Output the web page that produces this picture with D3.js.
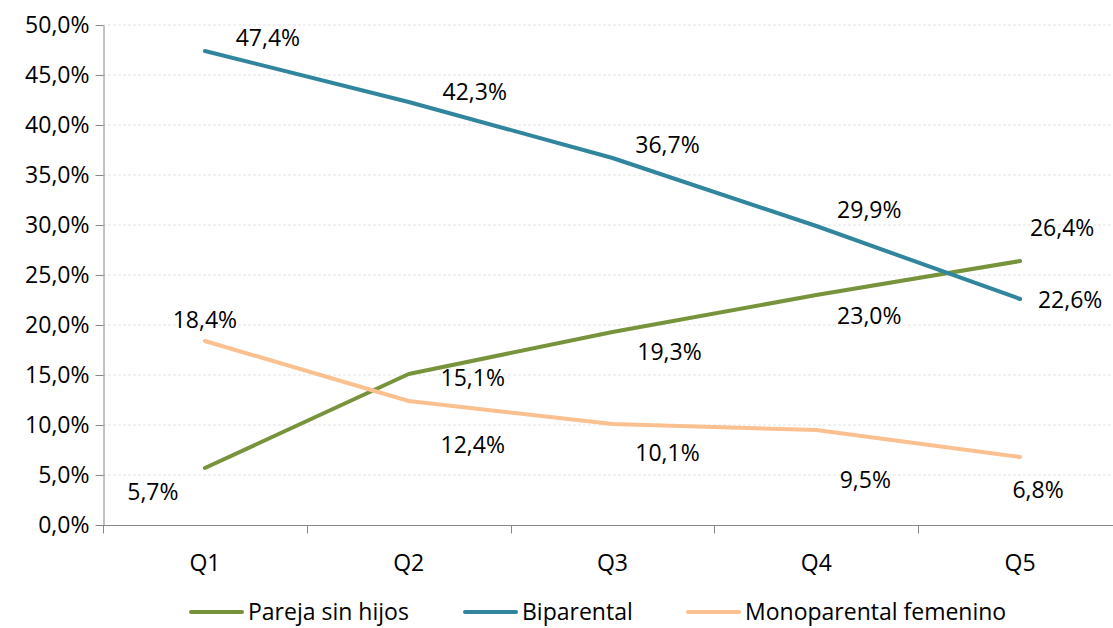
<!DOCTYPE html>
<html>
<head>
<meta charset="utf-8">
<script src="https://cdn.jsdelivr.net/npm/d3@7"></script>
<style>
  body { margin: 0; background: #fff; }
  text { font-family: "Open Sans", sans-serif; fill: #000; }
</style>
</head>
<body>
<div id="chart"></div>
<script>
const categories = ['Q1', 'Q2', 'Q3', 'Q4', 'Q5'];
const parejaSinHijos = [5.7, 15.1, 19.3, 23.0, 26.4];
const biparental = [47.4, 42.3, 36.7, 29.9, 22.6];
const monoparental = [18.4, 12.4, 10.1, 9.5, 6.8];
const yTicks = [0, 5, 10, 15, 20, 25, 30, 35, 40, 45, 50];

const width = 1113;
const height = 628;
const fontSize = '23px';

const series = [
    { name: 'Pareja sin hijos', values: parejaSinHijos, color: '#77933c',
      offsets: [[-52, 24], [64, 4], [57, 20], [53, 21], [42, -33]] },
    { name: 'Biparental', values: biparental, color: '#31859c',
      offsets: [[63, -13], [66, -10], [55, -13], [53, -16], [50, 1]] },
    { name: 'Monoparental femenino', values: monoparental, color: '#fac090',
      offsets: [[0, -21], [64, 44], [55, 29], [49, 50], [18, 33]] }
];

const fmt = v => v.toFixed(1).replace('.', ',') + '%';

const svg = d3.select('#chart')
    .append('svg')
    .attr('width', width)
    .attr('height', height);

const x = d3.scaleBand()
    .domain(categories)
    .range([103, 1122]);

const y = d3.scaleLinear()
    .domain([0, 50])
    .range([525, 25]);

// gridlines
svg.append('g')
    .selectAll('line')
    .data(yTicks.slice(1))
    .enter()
    .append('line')
    .attr('x1', 103)
    .attr('x2', width)
    .attr('y1', d => y(d))
    .attr('y2', d => y(d))
    .attr('stroke', '#e3e3e3')
    .attr('stroke-dasharray', '3,2')
    .attr('stroke-width', 1);

// y axis
const yAxis = svg.append('g')
    .attr('transform', 'translate(103.5,0)')
    .call(d3.axisLeft(y).tickValues(yTicks).tickFormat(fmt).tickSize(8).tickSizeOuter(0));
yAxis.select('.domain').attr('stroke', '#868686');
yAxis.selectAll('.tick line').attr('stroke', '#868686');
yAxis.selectAll('.tick text')
    .attr('x', -14)
    .style('font-size', fontSize)
    .attr('fill', '#000');

// x axis
const xAxis = svg.append('g')
    .attr('transform', 'translate(0,525.5)');
xAxis.append('line')
    .attr('x1', 103)
    .attr('x2', width)
    .attr('stroke', '#868686');
xAxis.selectAll('.xtick')
    .data(categories)
    .enter()
    .append('line')
    .attr('x1', d => Math.round(x(d)) + 0.5)
    .attr('x2', d => Math.round(x(d)) + 0.5)
    .attr('y1', 0)
    .attr('y2', 8)
    .attr('stroke', '#868686');
xAxis.selectAll('.xlabel')
    .data(categories)
    .enter()
    .append('text')
    .attr('x', d => x(d) + x.bandwidth() / 2)
    .attr('y', 37)
    .attr('dy', '0.35em')
    .attr('text-anchor', 'middle')
    .style('font-size', fontSize)
    .text(d => d);

// lines
const line = d3.line()
    .x((d, i) => x(categories[i]) + x.bandwidth() / 2)
    .y(d => y(d));

svg.append('g')
    .selectAll('path')
    .data(series)
    .enter()
    .append('path')
    .attr('d', d => line(d.values))
    .attr('fill', 'none')
    .attr('stroke', d => d.color)
    .attr('stroke-width', 4)
    .attr('stroke-linecap', 'round')
    .attr('stroke-linejoin', 'round');

// data labels
series.forEach(s => {
    svg.append('g')
        .selectAll('text')
        .data(s.values)
        .enter()
        .append('text')
        .attr('x', (d, i) => x(categories[i]) + x.bandwidth() / 2 + s.offsets[i][0])
        .attr('y', (d, i) => y(d) + s.offsets[i][1])
        .attr('dy', '0.35em')
        .attr('text-anchor', 'middle')
        .style('font-size', fontSize)
        .text(d => fmt(d));
});

// legend
const legendX = [189, 463, 686];
const legend = svg.append('g')
    .selectAll('g')
    .data(series)
    .enter()
    .append('g')
    .attr('transform', (d, i) => `translate(${legendX[i]},612)`);

legend.append('line')
    .attr('x1', 2)
    .attr('x2', 53)
    .attr('stroke', d => d.color)
    .attr('stroke-width', 4)
    .attr('stroke-linecap', 'round');

legend.append('text')
    .attr('x', 59)
    .attr('dy', '0.35em')
    .style('font-size', fontSize)
    .text(d => d.name);
</script>
</body>
</html>
